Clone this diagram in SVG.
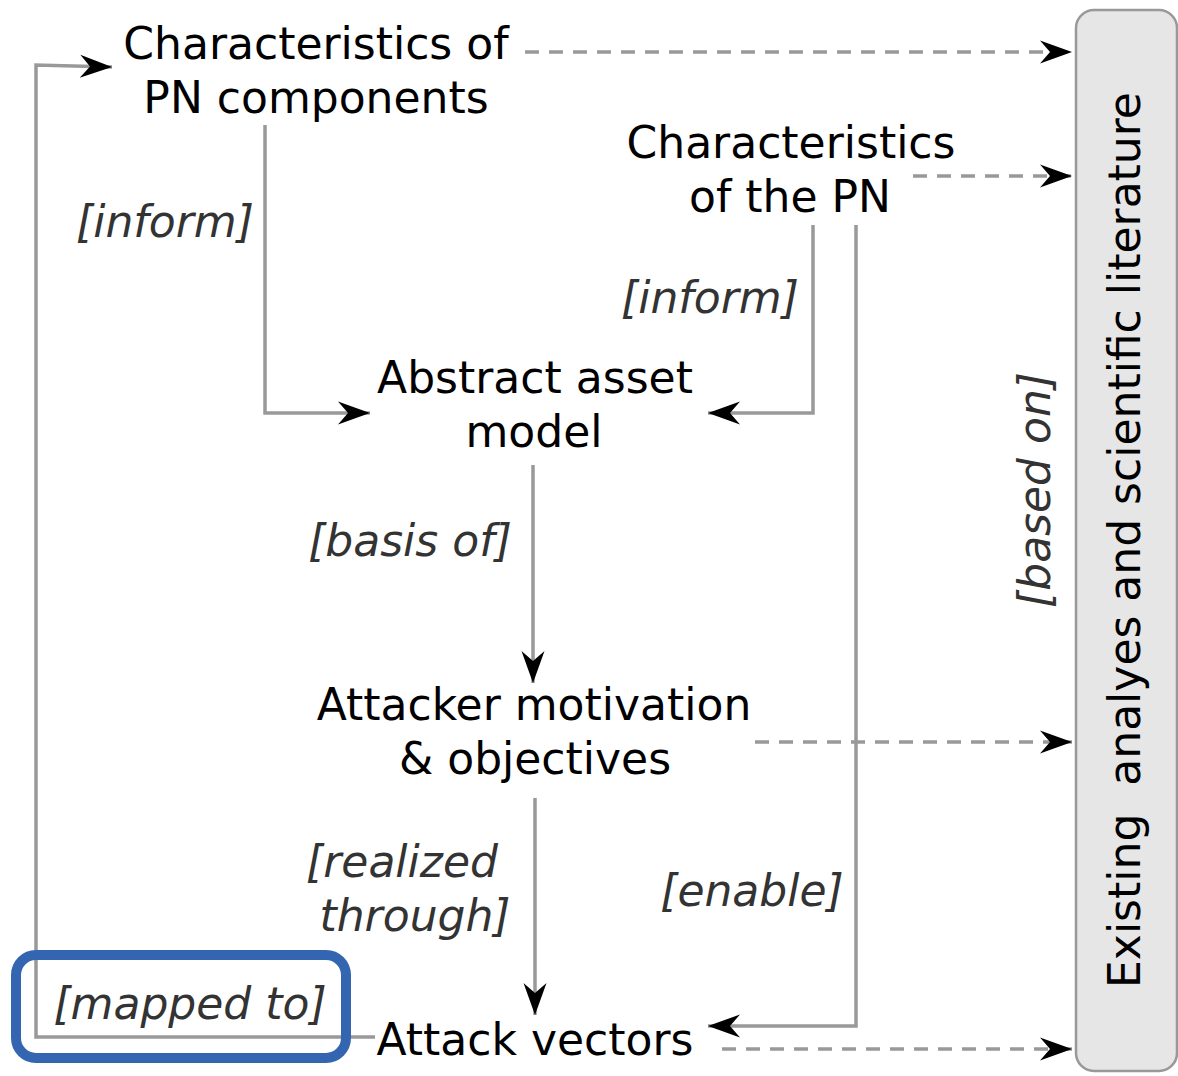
<svg xmlns="http://www.w3.org/2000/svg" width="1178" height="1076" viewBox="0 0 1178 1076">
<style>
.node{font-family:"DejaVu Sans","Liberation Sans",sans-serif;font-size:44px;fill:#000;text-anchor:middle}
.lbl{font-family:"DejaVu Sans","Liberation Sans",sans-serif;font-size:44px;font-style:italic;fill:#333;text-anchor:middle}
.con{fill:none;stroke:#999;stroke-width:3.5}
.dash{fill:none;stroke:#999;stroke-width:3.5;stroke-dasharray:14 10}
</style>
<defs>
<marker id="arr" markerUnits="userSpaceOnUse" markerWidth="40" markerHeight="30" viewBox="-34 -15 36 30" refX="0" refY="0" orient="auto">
<path d="M0,0 L-32,-11.5 L-22,0 L-32,11.5 Z" fill="#000"/>
</marker>
</defs>
<rect width="1178" height="1076" fill="#fff"/>
<g id="literature">
<rect x="1076" y="10" width="101" height="1061" rx="18" fill="#e6e6e6" stroke="#999" stroke-width="2.5"/>
<text class="node" xml:space="preserve" transform="translate(1140,540) rotate(-90)">Existing  analyes and scientific literature</text>
</g>
<g id="connectors">
<polyline class="con" points="375,1037 36,1037 36,65 112,67" marker-end="url(#arr)"/>
<polyline class="con" points="265,125 265,413 370,413" marker-end="url(#arr)"/>
<polyline class="con" points="813,225 813,413 708,413" marker-end="url(#arr)"/>
<polyline class="con" points="533,465 533,683" marker-end="url(#arr)"/>
<polyline class="con" points="535,798 535,1015" marker-end="url(#arr)"/>
<polyline class="con" points="856,225 856,1026 708,1026" marker-end="url(#arr)"/>
<line class="dash" x1="525" y1="52" x2="1072" y2="52" marker-end="url(#arr)"/>
<line class="dash" x1="913" y1="176" x2="1072" y2="176" marker-end="url(#arr)"/>
<line class="dash" x1="755" y1="742" x2="1072" y2="742" marker-end="url(#arr)"/>
<line class="dash" x1="722" y1="1049" x2="1072" y2="1049" marker-end="url(#arr)"/>
<text class="lbl" x="165" y="237">[inform]</text>
<text class="lbl" x="710" y="313">[inform]</text>
<text class="lbl" x="410" y="556">[basis of]</text>
<text class="lbl" x="402" y="877">[realized</text>
<text class="lbl" x="415" y="931">through]</text>
<text class="lbl" x="752" y="906">[enable]</text>
<text class="lbl" x="190" y="1019">[mapped to]</text>
<text class="lbl" transform="translate(1050,490) rotate(-90)">[based on]</text>
</g>
<g id="highlight">
<rect x="16" y="955" width="330" height="103" rx="20" fill="none" stroke="#3465b0" stroke-width="10"/>
</g>
<g id="pn-components">
<text class="node" x="316" y="59">Characteristics of</text>
<text class="node" x="316" y="113">PN components</text>
</g>
<g id="pn">
<text class="node" x="791" y="158">Characteristics</text>
<text class="node" x="790" y="212">of the PN</text>
</g>
<g id="asset-model">
<text class="node" x="535" y="393">Abstract asset</text>
<text class="node" x="534" y="447">model</text>
</g>
<g id="attacker">
<text class="node" x="534" y="720">Attacker motivation</text>
<text class="node" x="535" y="774">&amp; objectives</text>
</g>
<g id="attack-vectors">
<text class="node" x="535" y="1055">Attack vectors</text>
</g>
</svg>
